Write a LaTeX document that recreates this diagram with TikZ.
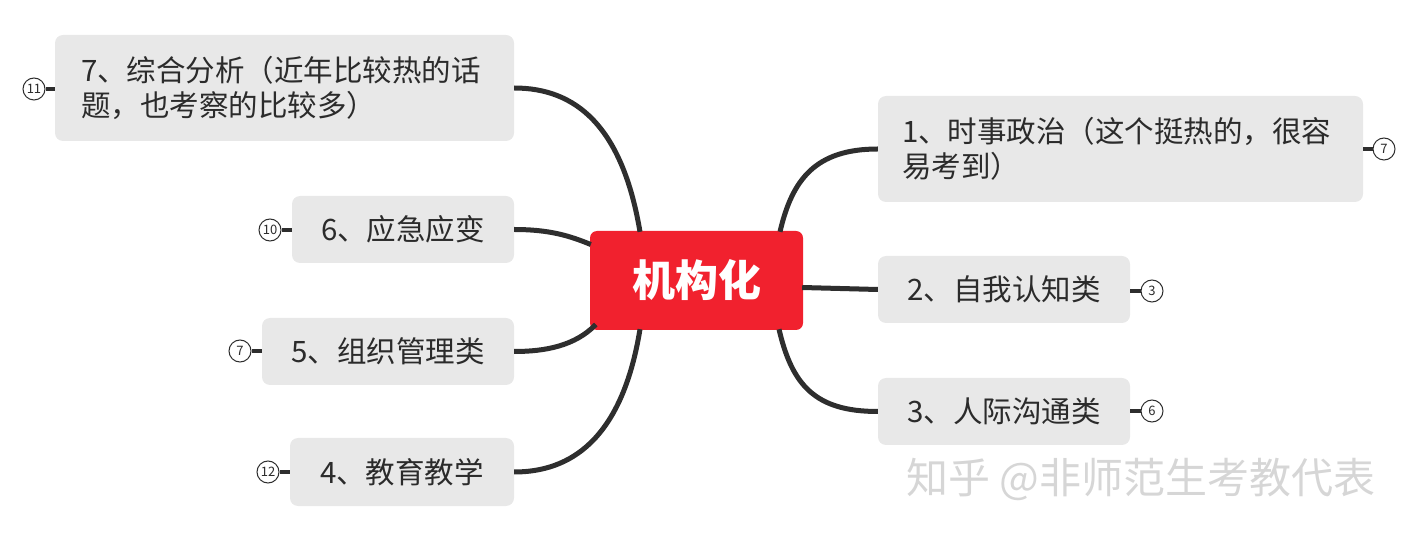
\documentclass[tikz,border=0pt]{standalone}
\usepackage{fontspec}
\setmainfont{Noto Sans CJK SC}
\usetikzlibrary{calc}
\definecolor{boxgray}{HTML}{E8E8E8}
\definecolor{txtgray}{HTML}{2B2B2B}
\definecolor{linegray}{HTML}{2E2E2E}
\definecolor{centralred}{HTML}{F1212E}
\definecolor{wmgray}{HTML}{D6D6D6}
\tikzset{
  topicbox/.style={fill=boxgray, rounded corners=8pt, inner sep=0pt, text=txtgray,
    font=\fontsize{29.5}{35}\selectfont},
  centralbox/.style={fill=centralred, rounded corners=7pt, inner sep=0pt, text=white,
    font=\fontsize{43}{46}\selectfont\bfseries},
  branch/.style={draw=linegray, line width=5pt},
  stub/.style={draw=linegray, line width=4pt},
  countmark/.style={circle, draw=linegray, line width=1pt, fill=white, minimum size=22pt,
    inner sep=0pt, text=txtgray, font=\fontsize{13}{13}\selectfont},
}
\begin{document}
\begin{tikzpicture}[x=1pt,y=-1pt]
\useasboundingbox (0,0) rectangle (1414,534);
% central
\node[centralbox, minimum width=213pt, minimum height=99pt] (c) at (696.5,280.5) {机构化};
% right topics
\node[topicbox, minimum width=485pt, minimum height=106pt, text width=437pt, inner xsep=24pt, align=left] (n1) at (1120.5,149)
  {1、时事政治（这个挺热的，很容\\易考到）};
\node[topicbox, minimum width=252pt, minimum height=67pt] (n2) at (1004,289.5) {2、自我认知类};
\node[topicbox, minimum width=252pt, minimum height=67pt] (n3) at (1004,411.5) {3、人际沟通类};
% left topics
\node[topicbox, minimum width=459pt, minimum height=106pt, text width=407pt, inner xsep=26pt, align=left] (n7) at (284.5,88)
  {7、综合分析（近年比较热的话\\题，也考察的比较多）};
\node[topicbox, minimum width=222pt, minimum height=67pt] (n6) at (403,229.5) {6、应急应变};
\node[topicbox, minimum width=252pt, minimum height=67pt] (n5) at (388,351.5) {5、组织管理类};
\node[topicbox, minimum width=224pt, minimum height=68pt] (n4) at (402,472) {4、教育教学};
% count marks
\node[countmark] (k1) at (1384,149) {7};
\node[countmark] (k2) at (1152,291) {3};
\node[countmark] (k3) at (1152,411) {6};
\node[countmark] (k7) at (34,89) {11};
\node[countmark] (k6) at (270,230) {10};
\node[countmark] (k5) at (240,351) {7};
\node[countmark] (k4) at (268,472) {12};
% stubs
\draw[stub] (n1.east) -- (k1.west);
\draw[stub] (n2.east |- k2) -- (k2.west);
\draw[stub] (n3.east |- k3) -- (k3.west);
\draw[stub] (n7.west |- k7) -- (k7.east);
\draw[stub] (n6.west |- k6) -- (k6.east);
\draw[stub] (n5.west |- k5) -- (k5.east);
\draw[stub] (n4.west |- k4) -- (k4.east);
% branches
\draw[branch] ($(c.north)+(83.5,1)$) .. controls (792,180) and (815,149) .. (n1.west);
\draw[branch] ($(c.east)+(-1,7)$) -- (n2.west);
\draw[branch] ($(c.south)+(82.5,-1)$) .. controls (792,385) and (815,411.5) .. (n3.west);
\draw[branch] ($(c.north)+(-56.5,1)$) .. controls (622,125) and (575,88) .. (n7.east);
\draw[branch] ($(c.west)+(1,-36)$) .. controls (570,236) and (550,229.5) .. (n6.east);
\draw[branch] ($(c.west)+(6,44)$) .. controls (575,346) and (545,351.5) .. (n5.east);
\draw[branch] ($(c.south)+(-56.5,-1)$) .. controls (622,440) and (570,472) .. (n4.east);
% watermark
\node[text=wmgray, font=\fontsize{42}{46}\selectfont, inner sep=0pt] (wm) at (1141,479) {知乎 @非师范生考教代表};
\end{tikzpicture}
\end{document}
